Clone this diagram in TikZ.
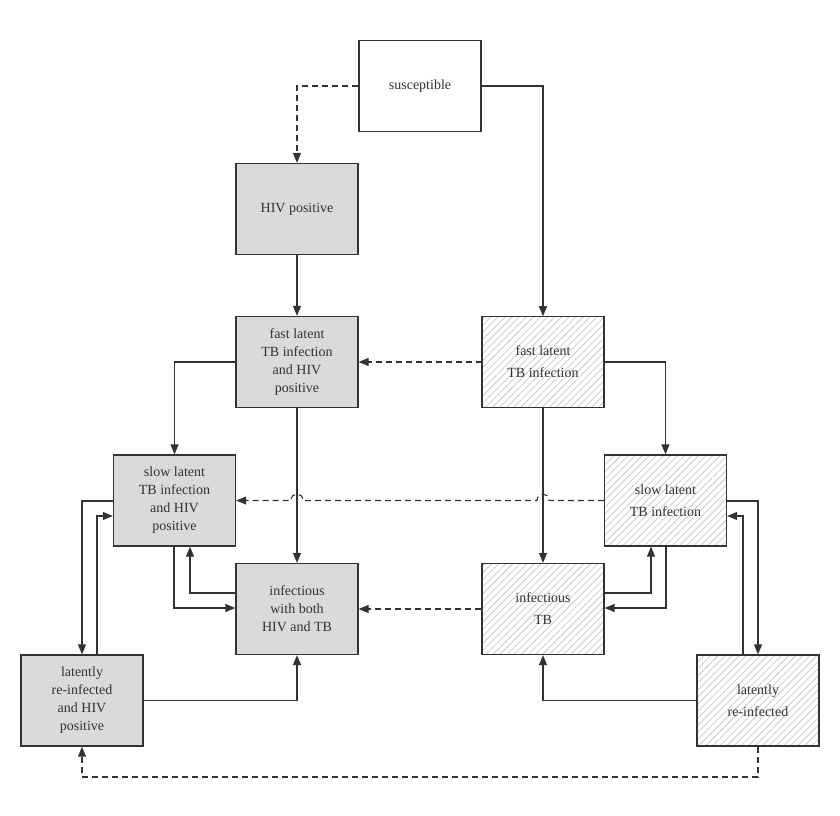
\documentclass[tikz,border=0pt]{standalone}
\usepackage{fontspec}
\setmainfont{Liberation Serif}
\usetikzlibrary{patterns.meta,arrows.meta}
\definecolor{ink}{HTML}{333333}
\definecolor{boxgray}{HTML}{DADADA}
\begin{document}
\begin{tikzpicture}[x=1pt,y=-1pt,
  box/.style={draw=ink,line width=1.3pt,minimum width=122pt,minimum height=91pt,align=center,font=\fontsize{14}{18}\selectfont,text=ink,inner sep=2pt},
  hivbox/.style={box,fill=boxgray},
  tbbox/.style={box,pattern={Lines[angle=45,distance=5pt,line width=0.6pt]},pattern color=gray!50},
  arr/.style={draw=ink,line width=1.1pt,-{Triangle[length=10pt,width=8pt]}},
  darr/.style={arr,dashed,dash pattern=on 6pt off 4pt}]
\fill[white] (0,0) rectangle (840,815);
\useasboundingbox (0,0) rectangle (840,815);
\node[box,fill=white] (sus) at (420,86) {susceptible};
\node[hivbox] (hiv) at (297,209) {HIV positive};
\node[hivbox] (flh) at (297,362) {fast latent\\TB infection\\and HIV\\positive};
\node[tbbox] (fl) at (543,362) {fast latent\\[4pt]TB infection};
\node[hivbox] (slh) at (174.5,500.5) {slow latent\\TB infection\\and HIV\\positive};
\node[tbbox] (sl) at (665.5,500.5) {slow latent\\[4pt]TB infection};
\node[hivbox] (inh) at (297,609) {infectious\\with both\\HIV and TB};
\node[tbbox] (inf) at (543,609) {infectious\\[4pt]TB};
\node[hivbox] (lrh) at (82,700.5) {latently\\re-infected\\and HIV\\positive};
\node[tbbox] (lr) at (758,700.5) {latently\\[4pt]re-infected};
% top
\draw[darr] (sus.west) -| (hiv.north);
\draw[arr] (sus.east) -| (fl.north);
\draw[arr] (hiv) -- (flh);
\draw[darr] (fl) -- (flh);
\draw[arr] (flh.west) -| (slh.north);
\draw[arr] (fl.east) -| (sl.north);
\draw[arr] (flh) -- (inh);
\draw[arr] (fl) -- (inf);
% dashed long with hops
\draw[darr] (sl.west) -- (549,500.5) .. controls (549,492) and (537,492) .. (537,500.5) -- (303,500.5) .. controls (303,492) and (291,492) .. (291,500.5) -- (slh.east);
\draw[darr] (inf) -- (inh);
% left cluster
\coordinate (a1) at (174,608);
\draw[arr] (slh.south -| a1) -- (a1) -- (inh.west |- a1);
\coordinate (a2) at (190,593);
\draw[arr] (inh.west |- a2) -- (a2) -- (slh.south -| a2);
\coordinate (b1) at (82,501);
\draw[arr] (slh.west |- b1) -- (b1) -- (lrh.north -| b1);
\coordinate (b2) at (97,516);
\draw[arr] (lrh.north -| b2) -- (b2) -- (slh.west |- b2);
\draw[arr] (lrh.east) -| (inh.south);
% right cluster
\coordinate (c1) at (651,593);
\draw[arr] (inf.east |- c1) -- (c1) -- (sl.south -| c1);
\coordinate (c2) at (666,608);
\draw[arr] (sl.south -| c2) -- (c2) -- (inf.east |- c2);
\coordinate (d1) at (758,501);
\draw[arr] (sl.east |- d1) -- (d1) -- (lr.north -| d1);
\coordinate (d2) at (743,516);
\draw[arr] (lr.north -| d2) -- (d2) -- (sl.east |- d2);
\draw[arr] (lr.west) -| (inf.south);
% bottom dashed
\coordinate (e1) at (758,777);
\coordinate (e2) at (82,777);
\draw[darr] (lr.south) -- (e1) -- (e2) -- (lrh.south);
\end{tikzpicture}
\end{document}
